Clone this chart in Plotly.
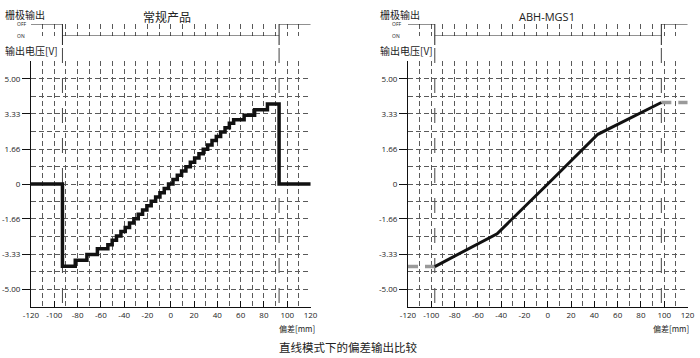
import plotly.graph_objects as go

W, H = 700, 358

# ---------------- data ----------------
x_ticks = [-120, -100, -80, -60, -40, -20, 0, 20, 40, 60, 80, 100, 120]
y_tickvals = [5.0, 3.33, 1.66, 0, -1.66, -3.33, -5.0]
y_ticktext = ["5.00", "3.33", "1.66", "0", "-1.66", "-3.33", "-5.00"]
y_minor = [-5.833, -4.167, -2.5, -0.833, 0.833, 2.5, 4.167, 5.833]

# conventional product: staircase output
stair_edges = [-93, -82, -72, -63, -54,
               -50.3, -46.6, -42.8, -39.1, -35.4, -31.7, -27.9, -24.2, -20.5, -16.8, -13.0, -9.3, -5.6, -1.9,
               1.9, 5.6, 9.3, 13.0, 16.8, 20.5, 24.2, 27.9, 31.7, 35.4, 39.1, 42.8, 46.6, 50.3,
               54, 63, 72, 83, 93]
stair_levels = [-3.90, -3.62, -3.35, -3.08,
                -2.88, -2.67, -2.47, -2.26, -2.06, -1.85, -1.65, -1.44, -1.23, -1.03, -0.82, -0.62, -0.41, -0.21,
                0.0, 0.21, 0.41, 0.62, 0.82, 1.03, 1.23, 1.44, 1.65, 1.85, 2.06, 2.26, 2.47, 2.67, 2.88,
                3.05, 3.26, 3.52, 3.80]
left_gate_switch = [-93, 93]

# ABH-MGS1: continuous output
abh_x = [-97, -43.5, 0, 43, 97.5]
abh_y = [-3.92, -2.36, 0, 2.36, 3.87]
abh_sat_left_x = [-120, -97]
abh_sat_left_y = [-3.92, -3.92]
abh_sat_right_x = [97.5, 120]
abh_sat_right_y = [3.87, 3.87]
right_gate_switch = [-97, 97.5]

# ---------------- helpers ----------------
def px(x):
    return x / W

def py(y):
    return 1 - y / H

TICKFONT = dict(family="Open Sans, Roboto, sans-serif", size=8, color="#222")
CJK = "Noto Sans CJK SC"
GRID = "#5a5a5a"

fig = go.Figure()

# ---- left chart ----
lx = [-120] + stair_edges + [120]
ly = [0] + stair_levels + [0, 0]
fig.add_trace(go.Scatter(x=lx, y=ly, mode="lines", line=dict(color="#111", width=3.5, shape="hv"),
                         xaxis="x", yaxis="y", showlegend=False, cliponaxis=False))
# gate signal left
fig.add_trace(go.Scatter(x=[-120, left_gate_switch[0], left_gate_switch[1], 120], y=[1, 0, 1, 1],
                         mode="lines", line=dict(color="#222", width=1, shape="hv"),
                         xaxis="x", yaxis="y3", showlegend=False, cliponaxis=False))

# ---- right chart ----
fig.add_trace(go.Scatter(x=abh_sat_left_x, y=abh_sat_left_y, mode="lines",
                         line=dict(color="#9a9a9a", width=3.5, dash="10px,7px"),
                         xaxis="x2", yaxis="y2", showlegend=False, cliponaxis=False))
fig.add_trace(go.Scatter(x=abh_sat_right_x, y=abh_sat_right_y, mode="lines",
                         line=dict(color="#9a9a9a", width=3.5, dash="10px,7px"),
                         xaxis="x2", yaxis="y2", showlegend=False, cliponaxis=False))
fig.add_trace(go.Scatter(x=abh_x, y=abh_y, mode="lines", line=dict(color="#111", width=3),
                         xaxis="x2", yaxis="y2", showlegend=False, cliponaxis=False))
fig.add_trace(go.Scatter(x=[-120, right_gate_switch[0], right_gate_switch[1], 120], y=[1, 0, 1, 1],
                         mode="lines", line=dict(color="#222", width=1, shape="hv"),
                         xaxis="x2", yaxis="y4", showlegend=False, cliponaxis=False))

plot_top, plot_bot = 61, 307


def xaxis_cfg(x0, x1, anchor):
    return dict(domain=[px(x0), px(x1)], anchor=anchor, range=[-120, 120.4], automargin=False,
                tickvals=x_ticks, ticktext=[str(v) for v in x_ticks],
                ticks="inside", ticklen=6, tickcolor="#111", tickwidth=1,
                showline=True, linecolor="#111", linewidth=1,
                showgrid=True, gridcolor=GRID, gridwidth=1, griddash="5px,3px",
                zeroline=False, tickfont=TICKFONT, fixedrange=True,
                minor=dict(dtick=10, tick0=0, showgrid=True, gridcolor=GRID, gridwidth=1,
                           griddash="5px,3px", ticks=""))


def yaxis_cfg(anchor):
    return dict(domain=[py(plot_bot), py(plot_top)], anchor=anchor, range=[-5.84, 5.84], automargin=False,
                tickvals=y_tickvals, ticktext=y_ticktext,
                ticks="outside", ticklen=8, tickcolor="#111", tickwidth=1,
                showline=True, linecolor="#111", linewidth=1,
                showgrid=True, gridcolor=GRID, gridwidth=1, griddash="5px,3px",
                zeroline=False, tickfont=TICKFONT, fixedrange=True,
                minor=dict(tickvals=y_minor, showgrid=True, gridcolor=GRID, gridwidth=1,
                           griddash="5px,3px", ticks=""))


gate_axis = dict(domain=[py(36), py(24)], range=[0, 1], visible=False, fixedrange=True, automargin=False)

fig.update_layout(
    template="none",
    width=W, height=H, margin=dict(l=0, r=0, t=0, b=0, autoexpand=False),
    paper_bgcolor="white", plot_bgcolor="white",
    xaxis=xaxis_cfg(31, 311, "y"),
    yaxis=yaxis_cfg("x"),
    xaxis2=xaxis_cfg(408, 688, "y2"),
    yaxis2=yaxis_cfg("x2"),
    yaxis3=dict(gate_axis, anchor="x"),
    yaxis4=dict(gate_axis, anchor="x2"),
)

# gate transition lines extending into the plots
shapes = []
for xr, sw in (("x", left_gate_switch), ("x2", right_gate_switch)):
    for s in sw:
        shapes.append(dict(type="line", xref=xr, yref="paper", x0=s, x1=s, y0=py(36), y1=py(45),
                           line=dict(color="#222", width=1)))
        shapes.append(dict(type="line", xref=xr, yref="paper", x0=s, x1=s, y0=py(48), y1=py(plot_bot),
                           line=dict(color="#444", width=1, dash="longdash"), layer="below"))
fig.update_layout(shapes=shapes)

ann = []


def text(t, x, y, size, xanchor="left", family=CJK, color="#222"):
    ann.append(dict(text=t, x=px(x), y=py(y), xref="paper", yref="paper", showarrow=False,
                    xanchor=xanchor, yanchor="middle", font=dict(family=family, size=size, color=color)))


for off in (0, 375):
    text("栅极输出", 3 + off, 14, 10)
    text("OFF", 15 + off, 24, 5, family="Open Sans")
    text("ON", 15 + off, 36, 5, family="Open Sans")
    text("输出电压[V]", 3 + off, 50, 10)

text("偏差[mm]", 297, 328, 8, xanchor="center")
text("偏差[mm]", 671, 328, 8, xanchor="center")
text("常规产品", 167, 17, 12, xanchor="center")
text("ABH-MGS1", 547, 17, 11, xanchor="center", family="Open Sans")
text("直线模式下的偏差输出比较", 348, 347, 11.5, xanchor="center")

fig.update_layout(annotations=ann)

fig.write_html("out.html", config={"displayModeBar": False},
               post_script="document.body.style.margin='0';document.body.style.padding='0';")
